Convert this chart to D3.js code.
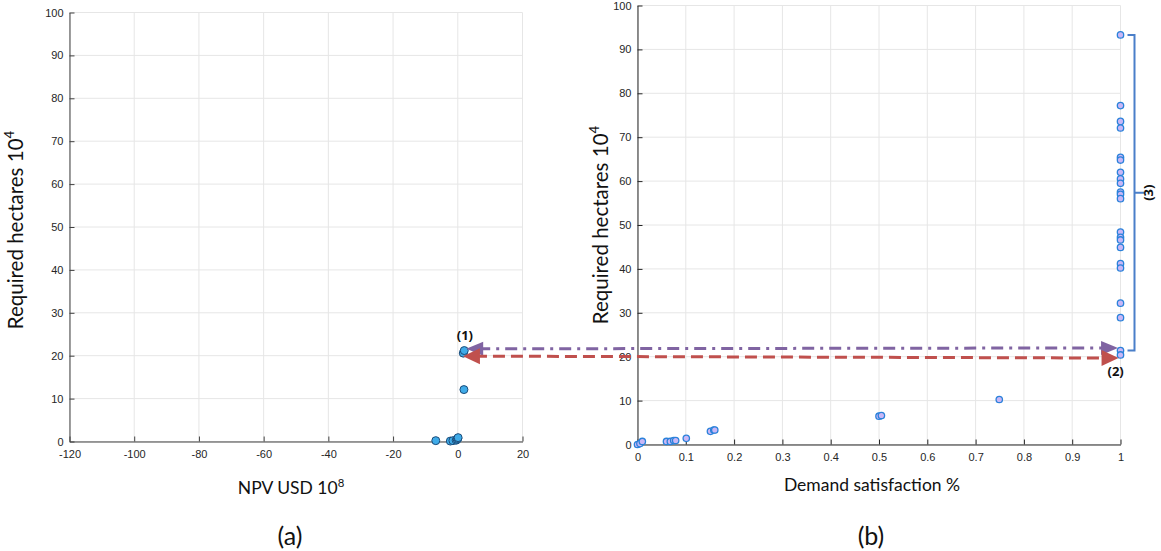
<!DOCTYPE html>
<html>
<head>
<meta charset="utf-8">
<script src="https://cdn.jsdelivr.net/npm/d3@7"></script>
<style>
  html, body { margin: 0; padding: 0; background: #fff; }
  svg { display: block; }
</style>
</head>
<body>
<svg id="chart" width="1161" height="551"></svg>
<script>
// ---- data ----
const leftNPV = [-6.8, -2.3, -1.5, -0.5, -0.2, 0.0, 0.1, 1.9, 1.7, 2.0];
const leftHa  = [0.2, 0.1, 0.2, 0.3, 0.5, 0.7, 0.9, 12.1, 20.6, 21.2];

const rightDS = [0, 0.005, 0.01, 0.06, 0.068, 0.075, 0.079, 0.101, 0.151, 0.158, 0.16, 0.5, 0.505, 0.749,
  1, 1, 1, 1, 1, 1, 1, 1, 1, 1, 1, 1, 1, 1, 1, 1, 1, 1, 1, 1, 1, 1];
const rightHa = [0, 0.2, 0.7, 0.7, 0.7, 0.9, 0.9, 1.4, 3.0, 3.3, 3.3, 6.45, 6.6, 10.25,
  93.3, 77.2, 73.6, 72.1, 65.4, 64.8, 62.0, 60.5, 59.5, 57.5, 57.0, 56.0,
  48.4, 47.2, 46.6, 44.9, 41.2, 40.2, 32.2, 28.9, 21.4, 20.4];

const leftXTicks = [-120, -100, -80, -60, -40, -20, 0, 20];
const yTicks = [0, 10, 20, 30, 40, 50, 60, 70, 80, 90, 100];
const rightXTicks = [0, 0.1, 0.2, 0.3, 0.4, 0.5, 0.6, 0.7, 0.8, 0.9, 1];

// ---- setup ----
const svg = d3.select("#chart");
const tickFont = "'Liberation Sans', Arial, sans-serif";
const labelFont = "Lato, 'Open Sans', sans-serif";

function panel(xs, ys, xTicks, xFmt, axisColor) {
  const g = svg.append("g");
  const [x0, x1] = xs.range();
  const [y0, y1] = ys.range();
  // grid
  g.selectAll(".gx").data(xTicks).join("line")
    .attr("x1", d => xs(d)).attr("x2", d => xs(d))
    .attr("y1", y0).attr("y2", y1)
    .attr("stroke", "#e6e6e6").attr("stroke-width", 1);
  g.selectAll(".gy").data(yTicks).join("line")
    .attr("x1", x0).attr("x2", x1)
    .attr("y1", d => ys(d)).attr("y2", d => ys(d))
    .attr("stroke", "#e6e6e6").attr("stroke-width", 1);
  // axes (ticks inward)
  const xAxis = g.append("g").attr("transform", `translate(0,${y0})`)
    .call(d3.axisBottom(xs).tickValues(xTicks).tickFormat(xFmt).tickSizeInner(-5).tickSizeOuter(0).tickPadding(9));
  const yAxis = g.append("g").attr("transform", `translate(${x0},0)`)
    .call(d3.axisLeft(ys).tickValues(yTicks).tickFormat(d => String(d)).tickSizeInner(-5).tickSizeOuter(0).tickPadding(6));
  [xAxis, yAxis].forEach(a => {
    a.select(".domain").attr("stroke", axisColor).attr("stroke-width", 1);
    a.selectAll(".tick line").attr("stroke", axisColor);
    a.selectAll(".tick text").attr("fill", "#262626").style("font-family", tickFont).style("font-size", "11px");
  });
  return g;
}

// left panel
const xL = d3.scaleLinear().domain([-120, 20]).range([69.5, 522.5]);
const yL = d3.scaleLinear().domain([0, 100]).range([441.5, 12.5]);
const gL = panel(xL, yL, leftXTicks, d => String(d), "#404040");

// right panel
const xR = d3.scaleLinear().domain([0, 1]).range([637.5, 1120.5]);
const yR = d3.scaleLinear().domain([0, 100]).range([444.5, 5.5]);
const gR = panel(xR, yR, rightXTicks, d => String(d), "#262626");

// points
gL.selectAll("circle.pt").data(leftNPV.map((v, i) => [v, leftHa[i]])).join("circle")
  .attr("cx", d => xL(d[0])).attr("cy", d => yL(d[1])).attr("r", 4)
  .attr("fill", "#3fabe8").attr("stroke", "#1b4c7a").attr("stroke-width", 1);

gR.selectAll("circle.pt").data(rightDS.map((v, i) => [v, rightHa[i]])).join("circle")
  .attr("cx", d => xR(d[0])).attr("cy", d => yR(d[1])).attr("r", 3.2)
  .attr("fill", "#c9b7f6").attr("stroke", "#2a82da").attr("stroke-width", 1.3);

// axis labels
function superLabel(x, y, base, sup, rotate, size) {
  const t = svg.append("text")
    .attr("transform", `translate(${x},${y})` + (rotate ? " rotate(-90)" : ""))
    .attr("text-anchor", "middle")
    .style("font-family", labelFont).style("font-size", size + "px").attr("fill", "#111");
  t.append("tspan").text(base);
  t.append("tspan").attr("dy", -size * 0.42).style("font-size", (size * 0.65) + "px").text(sup);
  return t;
}
superLabel(291, 494, "NPV USD 10", "8", false, 17.5);
superLabel(23, 230, "Required hectares 10", "4", true, 20.5);
superLabel(608, 225, "Required hectares 10", "4", true, 20.5);
svg.append("text").attr("x", 872).attr("y", 491).attr("text-anchor", "middle")
  .style("font-family", labelFont).style("font-size", "17.5px").attr("fill", "#111")
  .text("Demand satisfaction %");

// panel captions
svg.append("text").attr("x", 290).attr("y", 545).attr("text-anchor", "middle")
  .style("font-family", labelFont).style("font-size", "25px").attr("fill", "#111").text("(a)");
svg.append("text").attr("x", 871).attr("y", 545).attr("text-anchor", "middle")
  .style("font-family", labelFont).style("font-size", "25px").attr("fill", "#111").text("(b)");

// annotations: arrows
function arrowHead(tipX, tipY, dir, len, hw, color) {
  const bx = tipX - dir * len;
  svg.append("path")
    .attr("d", `M${tipX},${tipY} L${bx},${tipY - hw} L${bx},${tipY + hw} Z`)
    .attr("fill", color);
}
const purple = "#8064a2", red = "#c0504d";
const pL = [xL(2.6), yL(21.6)], pR = [xR(0.995), yR(22.0)];
svg.append("line").attr("x1", pL[0] + 12).attr("y1", pL[1]).attr("x2", pR[0] - 12).attr("y2", pR[1])
  .attr("stroke", purple).attr("stroke-width", 3).attr("stroke-dasharray", "12,6,3,6");
arrowHead(pL[0], pL[1], -1, 17, 7, purple);
arrowHead(pR[0], pR[1], 1, 17, 7, purple);

const rL = [xL(1.6), yL(19.9)], rR = [xR(0.996), yR(19.7)];
svg.append("line").attr("x1", rL[0] + 12).attr("y1", rL[1]).attr("x2", rR[0] - 12).attr("y2", rR[1])
  .attr("stroke", red).attr("stroke-width", 3).attr("stroke-dasharray", "12,6");
arrowHead(rL[0], rL[1], -1, 17, 8, red);
arrowHead(rR[0], rR[1], 1, 17, 8, red);

// labels (1), (2)
svg.append("text").attr("x", xL(2.2)).attr("y", yL(23.6)).attr("text-anchor", "middle")
  .style("font-family", "'Open Sans', sans-serif").style("font-weight", "bold").style("font-size", "13px")
  .attr("fill", "#111").text("(1)");
svg.append("text").attr("x", xR(0.99)).attr("y", yR(15.5)).attr("text-anchor", "middle")
  .style("font-family", "'Open Sans', sans-serif").style("font-weight", "bold").style("font-size", "13px")
  .attr("fill", "#111").text("(2)");

// bracket (3)
const bTop = yR(93.3), bBot = yR(21.4), bMid = (bTop + bBot) / 2;
const bx = xR(1) + 14;
svg.append("path")
  .attr("d", `M${bx - 7},${bTop} H${bx} V${bBot} H${bx - 7} M${bx},${bMid} H${bx + 10}`)
  .attr("fill", "none").attr("stroke", "#4a7fc9").attr("stroke-width", 2);
svg.append("text").attr("transform", `translate(${bx + 18},${bMid}) rotate(-90)`)
  .attr("text-anchor", "middle")
  .style("font-family", "'Open Sans', sans-serif").style("font-weight", "bold").style("font-size", "13px")
  .attr("fill", "#111").text("(3)");
</script>
</body>
</html>
